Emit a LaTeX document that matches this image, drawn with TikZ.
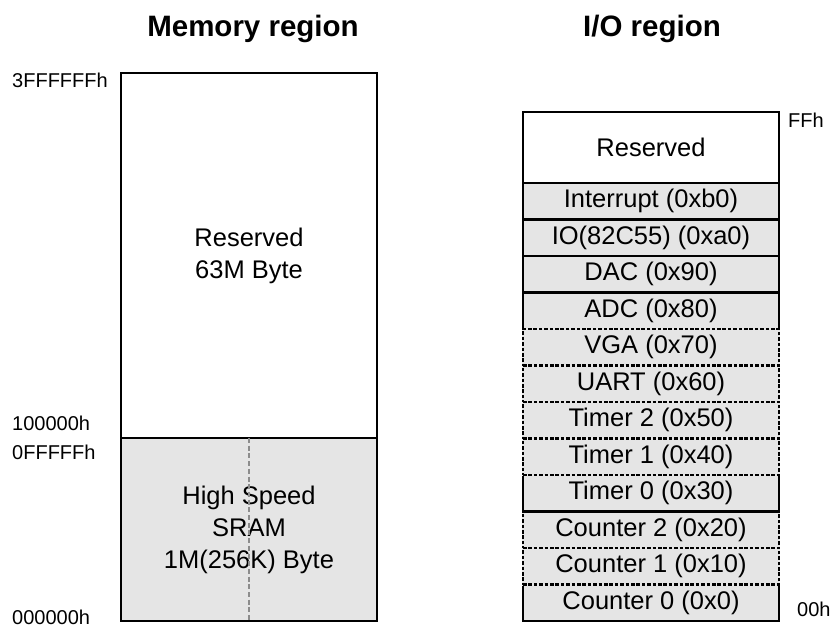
\documentclass[tikz,border=0pt]{standalone}
\usepackage{fontspec}
\setmainfont{Liberation Sans}
\usetikzlibrary{positioning}

\begin{document}
\begin{tikzpicture}[x=1pt, y=-1pt,
  region/.style={rectangle, draw=black, line width=2.9pt, fill=white,
                 minimum width=256pt, inner sep=0pt, outer sep=0pt, align=center,
                 font=\fontsize{25.5}{32}\selectfont},
  iodev/.style={region, fill=gray!20, minimum height=36.5pt},
  iospare/.style={iodev, dash pattern=on 3.6pt off 1.8pt,
                  preaction={draw=gray!20, solid}},
  sramsplit/.style={draw=black!45, line width=2.7pt, dash pattern=on 5pt off 2.7pt},
  addr/.style={anchor=west, inner sep=0pt, font=\fontsize{20}{24}\selectfont},
  title/.style={font=\bfseries\fontsize{29.5}{35}\selectfont}
]
  \useasboundingbox (0,0) rectangle (832,628);

  % memory map
  \node[region, fill=gray!20, minimum height=183pt] (sram) at (249,529.5) {High Speed\\SRAM\\1M(256K) Byte};
  \node[region, minimum height=365pt, above=0pt of sram] (memres) {Reserved\\63M Byte};
  \draw[sramsplit] (sram.north) -- (sram.south);

  \node[title] (memtitle) at (253,29) {Memory region};
  \node[addr] (atop) at (12,80) {3FFFFFFh};
  \node[addr] (aup) at (12,423) {100000h};
  \node[addr] (alow) at (12,452) {0FFFFFh};
  \node[addr] (abot) at (12,617) {000000h};

  % i/o map, built bottom up
  \node[iodev] (cnt0) at (651,602.75) {Counter 0 (0x0)};
  \node[iospare, above=0pt of cnt0] (cnt1) {Counter 1 (0x10)};
  \node[iospare, above=0pt of cnt1] (cnt2) {Counter 2 (0x20)};
  \node[iodev, above=0pt of cnt2] (tmr0) {Timer 0 (0x30)};
  \node[iospare, above=0pt of tmr0] (tmr1) {Timer 1 (0x40)};
  \node[iospare, above=0pt of tmr1] (tmr2) {Timer 2 (0x50)};
  \node[iospare, above=0pt of tmr2] (uart) {UART (0x60)};
  \node[iodev, above=36.5pt of uart] (adc) {ADC (0x80)};
  \node[iospare, below=0pt of adc] (vga) {VGA (0x70)};
  \node[iodev, above=0pt of adc] (dac) {DAC (0x90)};
  \node[iodev, above=0pt of dac] (pio) {IO(82C55) (0xa0)};
  \node[iodev, above=0pt of pio] (intr) {Interrupt (0xb0)};
  \node[region, minimum height=71pt, above=0pt of intr] (iores) {Reserved};

  \node[title] (iotitle) at (652,29) {I/O region};
  \node[addr] (iotop) at (788,120) {FFh};
  \node[addr] (iobot) at (797,609) {00h};
\end{tikzpicture}
\end{document}
